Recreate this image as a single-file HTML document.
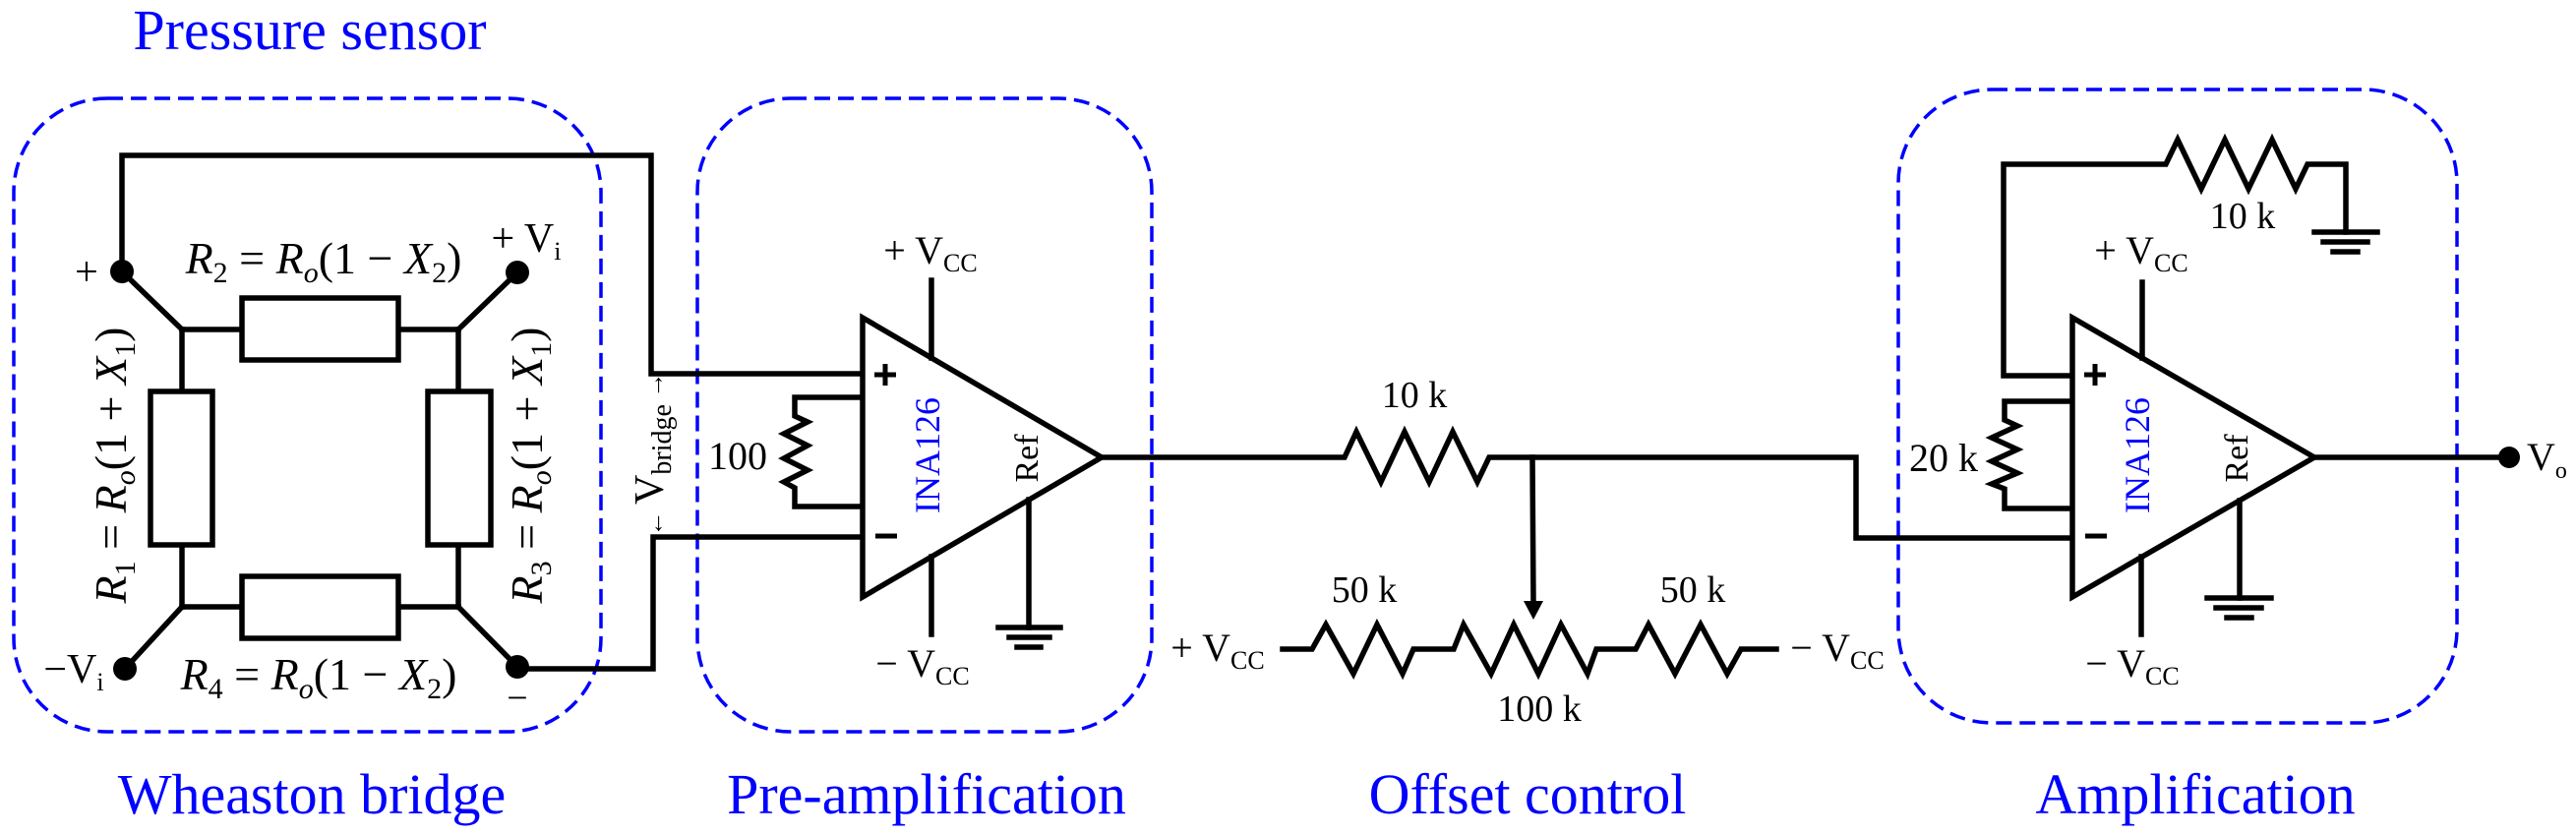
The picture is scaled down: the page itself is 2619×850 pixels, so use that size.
<!DOCTYPE html>
<html><head><meta charset="utf-8"><style>
html,body{margin:0;padding:0;background:#fff;}
svg{display:block;}
text{font-family:"Liberation Serif",serif;fill:#000;}
.blue{fill:#0000ff;}
.w{fill:none;stroke:#000;stroke-width:5.5;stroke-linejoin:miter;stroke-linecap:square;}
.box{fill:none;stroke:#0000ff;stroke-width:3.5;stroke-dasharray:16 8;}
</style></head><body>
<svg width="2619" height="850" viewBox="0 0 2619 850" xmlns="http://www.w3.org/2000/svg">
<rect class="box" x="14" y="100" width="597" height="644" rx="95" ry="95"/>
<rect class="box" x="709" y="100" width="462" height="644" rx="95" ry="95"/>
<rect class="box" x="1930" y="91" width="568" height="644" rx="95" ry="95"/>

<text class="blue" x="315" y="50" font-size="58" text-anchor="middle">Pressure sensor</text>
<text class="blue" x="317" y="827" font-size="58" text-anchor="middle">Wheaston bridge</text>
<text class="blue" x="942" y="827" font-size="58" text-anchor="middle">Pre-amplification</text>
<text class="blue" x="1553" y="827" font-size="58" text-anchor="middle">Offset control</text>
<text class="blue" x="2232" y="827" font-size="58" text-anchor="middle">Amplification</text>

<polyline class="w" points="124,276 124,158 662,158 662,380 876,380"/>
<polyline class="w" points="526,680 664,680 664,546 876,546"/>
<line class="w" x1="124" y1="276" x2="185" y2="335"/>
<line class="w" x1="526" y1="277" x2="466" y2="335"/>
<line class="w" x1="127" y1="680" x2="185" y2="617"/>
<line class="w" x1="526" y1="678" x2="466" y2="617"/>
<line class="w" x1="185" y1="335" x2="466" y2="335"/>
<line class="w" x1="185" y1="617" x2="466" y2="617"/>
<line class="w" x1="185" y1="335" x2="185" y2="617"/>
<line class="w" x1="466" y1="335" x2="466" y2="617"/>
<rect x="246" y="303" width="159" height="63" fill="#fff" stroke="#000" stroke-width="5.5"/>
<rect x="246" y="586" width="159" height="63" fill="#fff" stroke="#000" stroke-width="5.5"/>
<rect x="153" y="398" width="63" height="156" fill="#fff" stroke="#000" stroke-width="5.5"/>
<rect x="435" y="398" width="64" height="156" fill="#fff" stroke="#000" stroke-width="5.5"/>
<circle cx="124" cy="276" r="12"/>
<circle cx="526" cy="277" r="12"/>
<circle cx="127" cy="680" r="12"/>
<circle cx="526" cy="678" r="12"/>
<text x="88" y="290" font-size="42" text-anchor="middle">+</text>
<text x="535" y="256" font-size="42" text-anchor="middle">+ V<tspan font-size="26" dy="8">i</tspan></text>
<text x="75" y="694" font-size="42" text-anchor="middle">−V<tspan font-size="26" dy="8">i</tspan></text>
<text x="526" y="722" font-size="38" text-anchor="middle">−</text>
<text x="329" y="278" font-size="46" text-anchor="middle"><tspan font-style="italic">R</tspan><tspan font-size="30" dy="9">2</tspan><tspan dy="-9"> = </tspan><tspan font-style="italic">R</tspan><tspan font-size="30" font-style="italic" dy="9">o</tspan><tspan dy="-9">(1 − </tspan><tspan font-style="italic">X</tspan><tspan font-size="30" dy="9">2</tspan><tspan dy="-9">)</tspan></text>
<text x="324" y="701" font-size="46" text-anchor="middle"><tspan font-style="italic">R</tspan><tspan font-size="30" dy="9">4</tspan><tspan dy="-9"> = </tspan><tspan font-style="italic">R</tspan><tspan font-size="30" font-style="italic" dy="9">o</tspan><tspan dy="-9">(1 − </tspan><tspan font-style="italic">X</tspan><tspan font-size="30" dy="9">2</tspan><tspan dy="-9">)</tspan></text>
<text transform="translate(128,473) rotate(-90)" font-size="46" text-anchor="middle"><tspan font-style="italic">R</tspan><tspan font-size="30" dy="9">1</tspan><tspan dy="-9"> = </tspan><tspan font-style="italic">R</tspan><tspan font-size="30" font-style="italic" dy="9">o</tspan><tspan dy="-9">(1 + </tspan><tspan font-style="italic">X</tspan><tspan font-size="30" dy="9">1</tspan><tspan dy="-9">)</tspan></text>
<text transform="translate(551,473) rotate(-90)" font-size="46" text-anchor="middle"><tspan font-style="italic">R</tspan><tspan font-size="30" dy="9">3</tspan><tspan dy="-9"> = </tspan><tspan font-style="italic">R</tspan><tspan font-size="30" font-style="italic" dy="9">o</tspan><tspan dy="-9">(1 + </tspan><tspan font-style="italic">X</tspan><tspan font-size="30" dy="9">1</tspan><tspan dy="-9">)</tspan></text>
<text transform="translate(674,462) rotate(-90)" font-size="42" text-anchor="middle"><tspan font-size="26">← </tspan>V<tspan font-size="28" dy="8">bridge</tspan><tspan font-size="26" dy="-8"> →</tspan></text>

<text x="750" y="477" font-size="40" text-anchor="middle">100</text>
<polyline class="w" points="876,404 808,404 808,423 821,429 797,441 821,453 797,466 821,478 797,490 808,496 808,515 876,515"/>
<polygon points="877,323 877,607 1120,465" fill="#fff" stroke="#000" stroke-width="5.5"/>
<line class="w" x1="947" y1="285" x2="947" y2="364"/>
<line class="w" x1="947" y1="566" x2="947" y2="645"/>
<line class="w" x1="1046" y1="508" x2="1046" y2="638"/>
<line class="w" x1="1015" y1="638" x2="1078" y2="638" stroke-linecap="butt"/>
<line class="w" x1="1026" y1="648" x2="1067" y2="648" stroke-linecap="butt"/>
<line class="w" x1="1034" y1="658" x2="1058" y2="658" stroke-linecap="butt"/>
<path d="M889 381h22M900 370v22" stroke="#000" stroke-width="5"/>
<path d="M890 545h22" stroke="#000" stroke-width="5"/>
<text class="blue" transform="translate(955,463) rotate(-90)" font-size="36" text-anchor="middle">INA126</text>
<text transform="translate(1055,466) rotate(-90)" font-size="34" text-anchor="middle">Ref</text>
<text x="946" y="268" font-size="40" text-anchor="middle">+ V<tspan font-size="26" dy="8">CC</tspan></text>
<text x="938" y="688" font-size="40" text-anchor="middle">− V<tspan font-size="26" dy="8">CC</tspan></text>

<polyline class="w" points="1120,465 1367,465 1379,439 1404,490 1428,439 1453,490 1477,439 1502,490 1514,465 1887,465 1887,547 2107,547"/>
<text x="1438" y="414" font-size="38" text-anchor="middle">10 k</text>
<line class="w" x1="1558" y1="465" x2="1559" y2="612" stroke-linecap="butt"/>
<polygon points="1549,611 1569,611 1559,630"/>
<polyline class="w" points="1304,660 1334,660 1348,635 1376,685 1400,635 1426,685 1437,660 1478,660 1488,635 1516,685 1539,635 1564,685 1587,635 1614,685 1623,660 1663,660 1676,635 1703,685 1729,635 1756,685 1770,660 1806,660"/>
<text x="1238" y="672" font-size="40" text-anchor="middle">+ V<tspan font-size="26" dy="8">CC</tspan></text>
<text x="1868" y="672" font-size="40" text-anchor="middle">− V<tspan font-size="26" dy="8">CC</tspan></text>
<text x="1387" y="612" font-size="38" text-anchor="middle">50 k</text>
<text x="1721" y="612" font-size="38" text-anchor="middle">50 k</text>
<text x="1565" y="733" font-size="38" text-anchor="middle">100 k</text>

<polyline class="w" points="2107,382 2037,382 2037,167 2202,167 2214,142 2238,192 2262,142 2286,192 2310,142 2334,192 2346,167 2385,167 2385,236"/>
<line class="w" x1="2353" y1="236" x2="2417" y2="236" stroke-linecap="butt"/>
<line class="w" x1="2362" y1="246" x2="2407" y2="246" stroke-linecap="butt"/>
<line class="w" x1="2372" y1="256" x2="2397" y2="256" stroke-linecap="butt"/>
<text x="2280" y="232" font-size="38" text-anchor="middle">10 k</text>
<polyline class="w" points="2107,408 2038,408 2038,427 2051,433 2025,445 2051,457 2025,469 2051,481 2025,492 2038,497 2038,517 2107,517"/>
<text x="1976" y="479" font-size="40" text-anchor="middle">20 k</text>
<polygon points="2107,323 2107,607 2353,465" fill="#fff" stroke="#000" stroke-width="5.5"/>
<line class="w" x1="2178" y1="287" x2="2178" y2="364"/>
<line class="w" x1="2177" y1="566" x2="2177" y2="645"/>
<line class="w" x1="2277" y1="509" x2="2277" y2="608"/>
<line class="w" x1="2244" y1="608" x2="2309" y2="608" stroke-linecap="butt"/>
<line class="w" x1="2253" y1="618" x2="2299" y2="618" stroke-linecap="butt"/>
<line class="w" x1="2264" y1="628" x2="2289" y2="628" stroke-linecap="butt"/>
<path d="M2119 381h22M2130 370v22" stroke="#000" stroke-width="5"/>
<path d="M2120 545h22" stroke="#000" stroke-width="5"/>
<text class="blue" transform="translate(2185,463) rotate(-90)" font-size="36" text-anchor="middle">INA126</text>
<text transform="translate(2285,466) rotate(-90)" font-size="34" text-anchor="middle">Ref</text>
<text x="2177" y="268" font-size="40" text-anchor="middle">+ V<tspan font-size="26" dy="8">CC</tspan></text>
<text x="2168" y="688" font-size="40" text-anchor="middle">− V<tspan font-size="26" dy="8">CC</tspan></text>
<line class="w" x1="2353" y1="465" x2="2550" y2="465"/>
<circle cx="2551" cy="465" r="11"/>
<text x="2569" y="478" font-size="40">V<tspan font-size="24" dy="8">o</tspan></text>
</svg>
</body></html>
